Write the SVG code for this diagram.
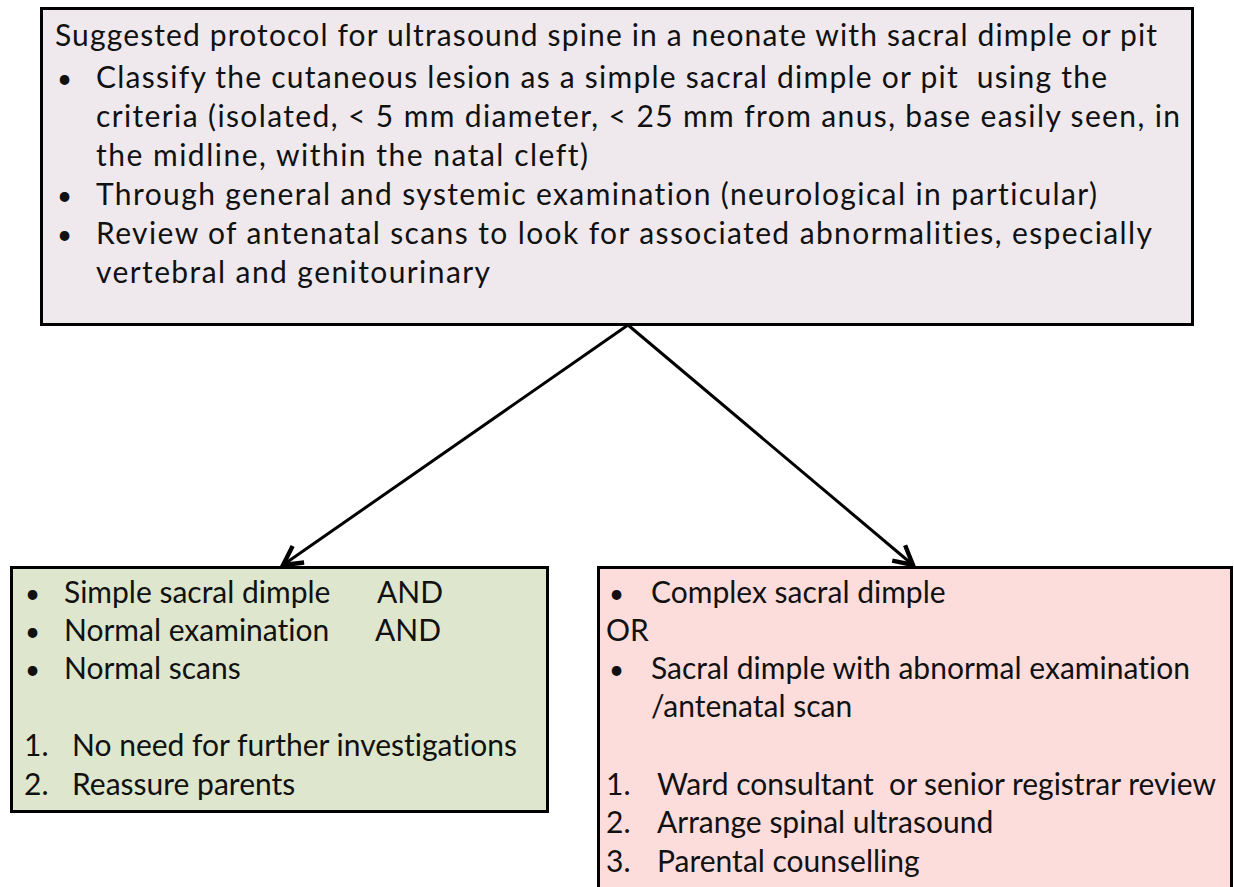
<svg xmlns="http://www.w3.org/2000/svg" width="1234" height="887" viewBox="0 0 1234 887">
<defs>
<style>
.t{font-family:Lato,"Open Sans","Liberation Sans",sans-serif;font-size:30px;fill:#111;white-space:pre;font-variant-ligatures:none}
.b{font-family:Lato,"Open Sans","Liberation Sans",sans-serif;font-size:26px;fill:#111}
.box{stroke:#000;stroke-width:3}
.con{stroke:#000;stroke-width:3;fill:none}
</style>
<marker id="arr" markerUnits="userSpaceOnUse" markerWidth="30" markerHeight="30" refX="0" refY="0" viewBox="-18 -12 22 24" orient="auto">
<path d="M -15 -8 L 0 0 L -15 8" fill="none" stroke="#000" stroke-width="3.5"/>
</marker>
</defs>
<rect width="1234" height="887" fill="#fff"/>
<g id="connectors">
<line class="con" x1="628" y1="325" x2="283" y2="565" marker-end="url(#arr)"/>
<line class="con" x1="628" y1="325" x2="913" y2="565" marker-end="url(#arr)"/>
</g>
<g id="protocol">
<rect class="box" x="41.5" y="8.5" width="1151" height="316" fill="#EFE9ED"/>
<text class="t" x="55" y="46" textLength="1102">Suggested protocol for ultrasound spine in a neonate with sacral dimple or pit</text>
<text class="b" x="57" y="88">•</text>
<text class="t" x="96" y="88" textLength="1011">Classify the cutaneous lesion as a simple sacral dimple or pit  using the</text>
<text class="t" x="96" y="127" textLength="1084">criteria (isolated, &lt; 5 mm diameter, &lt; 25 mm from anus, base easily seen, in</text>
<text class="t" x="96" y="166" textLength="492">the midline, within the natal cleft)</text>
<text class="b" x="57" y="205">•</text>
<text class="t" x="96" y="205" textLength="1001">Through general and systemic examination (neurological in particular)</text>
<text class="b" x="57" y="244">•</text>
<text class="t" x="96" y="244" textLength="1056">Review of antenatal scans to look for associated abnormalities, especially</text>
<text class="t" x="96" y="283" textLength="394">vertebral and genitourinary</text>
</g>
<g id="simple">
<rect class="box" x="11.5" y="567.5" width="536" height="244" fill="#DEE6CD"/>
<text class="b" x="25" y="603">•</text>
<text class="t" x="64" y="603">Simple sacral dimple</text>
<text class="t" x="377" y="603">AND</text>
<text class="b" x="25" y="641">•</text>
<text class="t" x="64" y="641">Normal examination</text>
<text class="t" x="375" y="641">AND</text>
<text class="b" x="25" y="679">•</text>
<text class="t" x="64" y="679">Normal scans</text>
<text class="t" x="24" y="756">1.</text>
<text class="t" x="72" y="756" textLength="445">No need for further investigations</text>
<text class="t" x="24" y="795">2.</text>
<text class="t" x="72" y="795">Reassure parents</text>
</g>
<g id="complex">
<rect class="box" x="598.5" y="567.5" width="633" height="330" fill="#FDDDDC"/>
<text class="b" x="609" y="603">•</text>
<text class="t" x="651" y="603">Complex sacral dimple</text>
<text class="t" x="606" y="641">OR</text>
<text class="b" x="609" y="679">•</text>
<text class="t" x="651" y="679" textLength="539">Sacral dimple with abnormal examination</text>
<text class="t" x="651" y="717">/antenatal scan</text>
<text class="t" x="606" y="795">1.</text>
<text class="t" x="657" y="795" textLength="559">Ward consultant  or senior registrar review</text>
<text class="t" x="606" y="833">2.</text>
<text class="t" x="657" y="833">Arrange spinal ultrasound</text>
<text class="t" x="606" y="872">3.</text>
<text class="t" x="657" y="872">Parental counselling</text>
</g>
</svg>
